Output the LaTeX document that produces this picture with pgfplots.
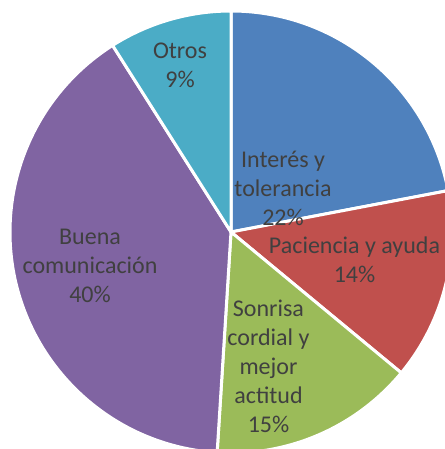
\documentclass[border=0pt]{standalone}
\usepackage{pgfplots}
\usepackage{pgfplotstable}
\pgfplotsset{compat=1.18}
\usepackage{fontspec}
\setmainfont{Carlito}
\definecolor{pA}{HTML}{4F81BD}
\definecolor{pB}{HTML}{C0504D}
\definecolor{pC}{HTML}{9BBB59}
\definecolor{pD}{HTML}{8064A2}
\definecolor{pE}{HTML}{4BACC6}
\definecolor{txt}{HTML}{404040}
\pgfplotstableread{
idx value col
0 22 pA
1 14 pB
2 15 pC
3 40 pD
4 9 pE
}\piedata
\begin{document}
\begin{tikzpicture}
\begin{axis}[scale only axis, width=445bp, height=449bp,
  xmin=-231, xmax=214, ymin=-217, ymax=232, hide axis, clip=true]
\def\cum{0}
\pgfplotsforeachungrouped \i in {0,...,4}{%
  \pgfplotstablegetelem{\i}{value}\of\piedata
  \let\val\pgfplotsretval
  \pgfplotstablegetelem{\i}{col}\of\piedata
  \let\colname\pgfplotsretval
  \pgfmathsetmacro\sa{90-3.6*\cum}%
  \pgfmathsetmacro\ea{90-3.6*(\cum+\val)}%
  \pgfmathsetmacro\cum{\cum+\val}%
  \edef\temp{\noexpand\fill[fill=\colname,draw=white,line width=3bp,line join=round] (axis cs:0,0) -- ++(\sa:221bp) arc[start angle=\sa, end angle=\ea, radius=221bp] -- cycle;}%
  \temp
}
\begin{scope}[every node/.style={text=txt,align=center,font=\fontsize{24bp}{29bp}\selectfont}]
\node at (axis cs:52,44) {Interés y\\tolerancia\\22\%};
\node at (axis cs:123.5,-27.5) {Paciencia y ayuda\\14\%};
\node at (axis cs:37.5,-134.5) {Sonrisa\\cordial y\\mejor\\actitud\\15\%};
\node at (axis cs:-141,-34) {Buena\\comunicación\\40\%};
\node at (axis cs:-51,167) {Otros\\9\%};
\end{scope}
\end{axis}
\pgfresetboundingbox
\useasboundingbox (current axis.south west) rectangle (current axis.north east);
\end{tikzpicture}
\end{document}
